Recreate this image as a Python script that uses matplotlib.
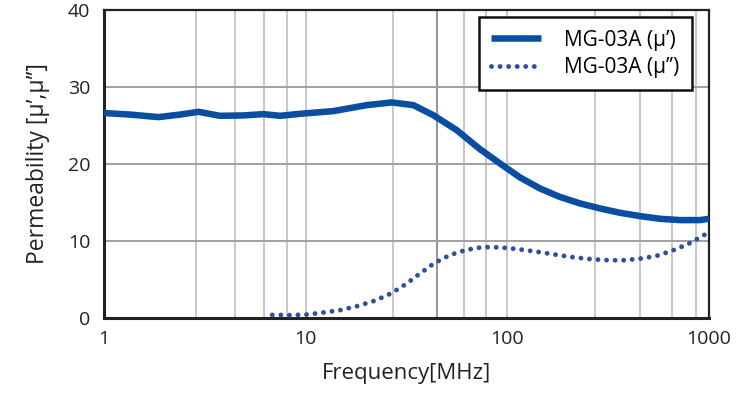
import numpy as np
import matplotlib.pyplot as plt

plt.rcParams['font.family'] = ['Open Sans', 'DejaVu Sans']

# mu' (solid)
f_real = [1.0, 1.35, 1.86, 2.38, 2.94, 3.76, 4.91, 6.17, 7.46, 9.37, 13.7, 20.1, 26.7,
          34.2, 42.9, 56.1, 73.2, 91.9, 115.5, 145, 182, 229, 288, 362, 455, 571, 718, 902, 1000]
mu_real = [26.6, 26.4, 26.07, 26.4, 26.76, 26.24, 26.29, 26.46, 26.24, 26.5, 26.85, 27.63, 27.98,
           27.63, 26.33, 24.38, 21.9, 20.05, 18.23, 16.8, 15.7, 14.85, 14.2, 13.63, 13.2, 12.85,
           12.68, 12.68, 12.85]

# mu'' (dotted)
f_imag = [6.83, 8.36, 10.2, 12.4, 15.1, 18.3, 22.2, 26.5, 31.4, 36.9, 43.3, 51.8, 62.4, 75.7,
          92.3, 113, 137, 167, 204, 248, 303, 369, 451, 546, 663, 799, 944, 1000]
mu_imag = [0.35, 0.32, 0.4, 0.68, 1.0, 1.54, 2.23, 3.14, 4.36, 5.74, 7.05, 8.13, 8.8, 9.17,
           9.13, 8.9, 8.6, 8.26, 7.9, 7.65, 7.48, 7.44, 7.65, 8.0, 8.74, 9.65, 10.73, 11.0]

grid_x = [2.85, 4.46, 6.2, 8.1, 10, 27, 45, 61, 78, 100, 273, 456, 655, 865]
grid_y = [10, 20, 30]

fig = plt.figure(figsize=(7.5, 4), dpi=100)
ax = fig.add_axes([0.1387, 0.206, 0.8066, 0.769])

for gx in grid_x:
    ax.axvline(gx, color='#8c8c8c' if gx == 45 else '#c4c4c4', lw=1.3, zorder=1)
for gy in grid_y:
    ax.axhline(gy, color='#a0a0a0', lw=1.4, zorder=1)

ax.plot(f_real, mu_real, color='#0a4ea2', lw=4.7, solid_capstyle='butt', solid_joinstyle='round',
        label='MG-03A (\u03bc\u2019)', zorder=3)
ax.plot(f_imag, mu_imag, color='#2f4f9f', lw=3.5, linestyle=(0, (0.01, 1.75)),
        dash_capstyle='round', label='MG-03A (\u03bc\u2019\u2019)', zorder=3)

ax.set_xscale('log')
ax.set_xlim(1, 1000)
ax.set_ylim(0, 40)
ax.set_xticks([1, 10, 100, 1000])
ax.set_xticklabels(['1', '10', '100', '1000'])
ax.set_xticks([], minor=True)
ax.set_yticks([0, 10, 20, 30, 40])
ax.tick_params(length=0, labelsize=14, colors='#222222')
ax.tick_params(axis='x', pad=9)
ax.tick_params(axis='y', pad=10)

for s in ax.spines.values():
    s.set_color('#222222')
    s.set_linewidth(1.6)
ax.spines['left'].set_linewidth(2.2)
ax.spines['bottom'].set_linewidth(2.2)

ax.set_xlabel('Frequency[MHz]', fontsize=16, color='#222222', labelpad=11)
ax.set_ylabel('Permeability [\u03bc\u2019,\u03bc\u2019\u2019]', fontsize=16.5, color='#222222', labelpad=13)

leg = ax.legend(loc='upper right', bbox_to_anchor=(0.972, 0.977), borderaxespad=0,
                fontsize=15, fancybox=False, framealpha=1, edgecolor='#111111',
                handlelength=2.4, handletextpad=1.1, borderpad=0.6, labelspacing=0.3)
leg.get_frame().set_linewidth(1.8)
leg.set_zorder(5)

fig.savefig('out.png', dpi=100)
